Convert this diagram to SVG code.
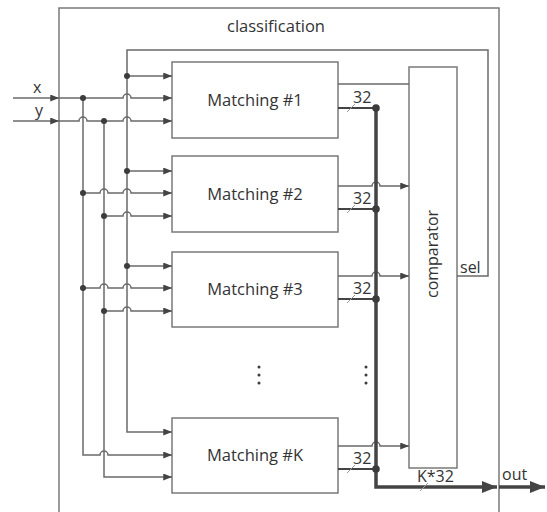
<svg xmlns="http://www.w3.org/2000/svg" width="547" height="512" viewBox="0 0 547 512">
<style>
text{font-family:"Open Sans","Liberation Sans",sans-serif;fill:#333}
.t{font-size:16.5px;text-anchor:middle}
.s{font-size:16px}
.box{fill:#fff;stroke:#7a7a7a;stroke-width:1.5}
.w{fill:none;stroke:#6a6a6a;stroke-width:1.5}
.o{fill:none;stroke:#444;stroke-width:2.2}
.bus{fill:none;stroke:#444;stroke-width:3.5}
.tick{stroke:#999;stroke-width:1}
.dot{fill:#3c3c3c}
</style>
<defs>
<marker id="a" viewBox="0 0 10 8" refX="10" refY="4" markerWidth="9" markerHeight="7" markerUnits="userSpaceOnUse" orient="auto"><path d="M0,0L10,4L0,8z" fill="#444"/></marker>
<marker id="b" viewBox="0 0 10 8" refX="10" refY="4" markerWidth="15" markerHeight="12" markerUnits="userSpaceOnUse" orient="auto"><path d="M0,0L10,4L0,8z" fill="#444"/></marker>
</defs>
<g id="classification">
<path d="M59,512V8H499V512" fill="none" stroke="#7a7a7a" stroke-width="1.5"/>
<text class="t" x="276" y="32">classification</text>
</g>
<g id="comparator">
<rect class="box" x="409" y="67" width="48" height="401"/>
<text class="s" transform="translate(438,254) rotate(-90)" text-anchor="middle">comparator</text>
</g>
<g id="matching1"><rect class="box" x="172" y="62" width="166" height="76"/><text class="t" x="255" y="106">Matching #1</text></g>
<g id="matching2"><rect class="box" x="172" y="156" width="166" height="76"/><text class="t" x="255" y="200">Matching #2</text></g>
<g id="matching3"><rect class="box" x="172" y="252" width="166" height="75"/><text class="t" x="255" y="295">Matching #3</text></g>
<g id="matchingK"><rect class="box" x="172" y="418" width="166" height="75"/><text class="t" x="255" y="461">Matching #K</text></g>
<g id="connectors">
<path class="w" d="M13,98H59" marker-end="url(#a)"/>
<path class="w" d="M13,121H59" marker-end="url(#a)"/>
<path class="w" d="M59,98H123A4,4 0 0 1 131,98H172" marker-end="url(#a)"/>
<path class="w" d="M59,121H79A4,4 0 0 1 87,121H123A4,4 0 0 1 131,121H172" marker-end="url(#a)"/>
<path class="w" d="M457,276H488V50H127V432H172" marker-end="url(#a)"/>
<path class="w" d="M127,76H172" marker-end="url(#a)"/>
<path class="w" d="M127,171H172" marker-end="url(#a)"/>
<path class="w" d="M127,266H172" marker-end="url(#a)"/>
<path class="w" d="M83,98V455H100A4,4 0 0 1 108,455H172" marker-end="url(#a)"/>
<path class="w" d="M83,193H100A4,4 0 0 1 108,193H123A4,4 0 0 1 131,193H172" marker-end="url(#a)"/>
<path class="w" d="M83,288H100A4,4 0 0 1 108,288H123A4,4 0 0 1 131,288H172" marker-end="url(#a)"/>
<path class="w" d="M104,121V477H172" marker-end="url(#a)"/>
<path class="w" d="M104,216H123A4,4 0 0 1 131,216H172" marker-end="url(#a)"/>
<path class="w" d="M104,311H123A4,4 0 0 1 131,311H172" marker-end="url(#a)"/>
<path class="w" d="M338,84H409"/>
<path class="w" d="M338,186H372A4,4 0 0 1 380,186H409" marker-end="url(#a)"/>
<path class="w" d="M338,276H372A4,4 0 0 1 380,276H409" marker-end="url(#a)"/>
<path class="w" d="M338,446H372A4,4 0 0 1 380,446H409" marker-end="url(#a)"/>
<path class="o" d="M338,108H376"/>
<path class="o" d="M338,209H376"/>
<path class="o" d="M338,299H376"/>
<path class="o" d="M338,469H376"/>
<path class="bus" d="M376,108V487H497" marker-end="url(#b)"/>
<path class="bus" d="M499,487H545" marker-end="url(#b)"/>
<path class="tick" d="M347,112L355,104M347,213L355,205M347,303L355,295M347,473L355,465M420,491L428,483"/>
<circle class="dot" cx="83" cy="98" r="3"/><circle class="dot" cx="104" cy="121" r="3"/>
<circle class="dot" cx="127" cy="76" r="3"/><circle class="dot" cx="127" cy="171" r="3"/><circle class="dot" cx="127" cy="266" r="3"/>
<circle class="dot" cx="83" cy="193" r="3"/><circle class="dot" cx="83" cy="288" r="3"/>
<circle class="dot" cx="104" cy="216" r="3"/><circle class="dot" cx="104" cy="311" r="3"/>
<circle class="dot" cx="376" cy="108" r="3.8"/><circle class="dot" cx="376" cy="209" r="3.8"/><circle class="dot" cx="376" cy="299" r="3.8"/><circle class="dot" cx="376" cy="469" r="3.8"/>
<circle class="dot" cx="259" cy="367" r="1.5"/><circle class="dot" cx="259" cy="375" r="1.5"/><circle class="dot" cx="259" cy="383" r="1.5"/>
<circle class="dot" cx="366" cy="367" r="1.5"/><circle class="dot" cx="366" cy="375" r="1.5"/><circle class="dot" cx="366" cy="383" r="1.5"/>
<text class="s" x="33" y="93">x</text>
<text class="s" x="35" y="116">y</text>
<text class="s" x="353" y="103">32</text>
<text class="s" x="353" y="204">32</text>
<text class="s" x="353" y="294">32</text>
<text class="s" x="353" y="464">32</text>
<text class="s" x="460" y="273">sel</text>
<text class="s" x="417" y="482">K*32</text>
<text class="s" x="502" y="480">out</text>
</g>
</svg>
